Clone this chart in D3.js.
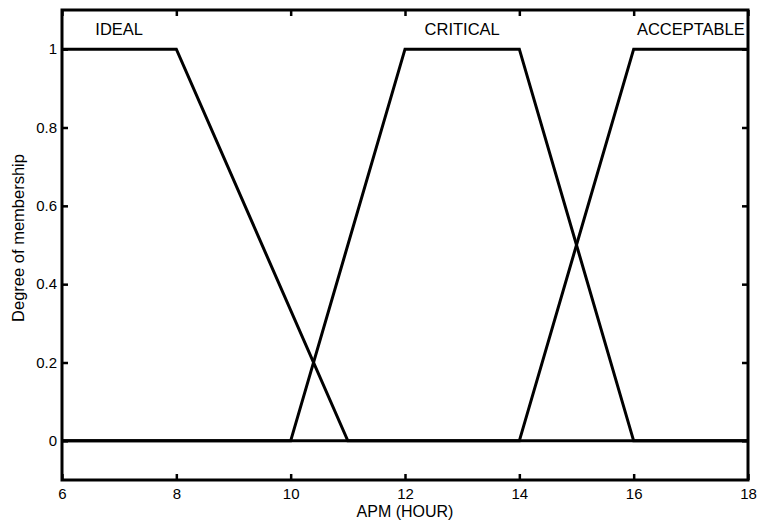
<!DOCTYPE html>
<html>
<head>
<meta charset="utf-8">
<script src="https://cdn.jsdelivr.net/npm/d3@7"></script>
<style>
    body { margin: 0; background: #fff; }
    text { font-family: "Liberation Sans", Arial, sans-serif; fill: #000; }
</style>
</head>
<body>
<div id="chart"></div>
<script>
// Membership function names and breakpoints (x in hours, y = degree)
const mfNames = ["IDEAL", "CRITICAL", "ACCEPTABLE"];
const idealX = [6, 8, 11, 18];
const idealY = [1, 1, 0, 0];
const criticalX = [6, 10, 12, 14, 16, 18];
const criticalY = [0, 0, 1, 1, 0, 0];
const acceptableX = [6, 14, 16, 18];
const acceptableY = [0, 0, 1, 1];
// label anchor: centre of each plateau
const labelX = [7, 13, 17];

const xTicks = [6, 8, 10, 12, 14, 16, 18];
const yTicks = [0, 0.2, 0.4, 0.6, 0.8, 1];

const width = 759, height = 520;
const margin = { top: 10, right: 11, bottom: 40, left: 62 };

const x = d3.scaleLinear().domain([6, 18]).range([margin.left, width - margin.right]);
const y = d3.scaleLinear().domain([-0.1, 1.1]).range([height - margin.bottom, margin.top]);

const svg = d3.select("#chart").append("svg")
    .attr("width", width)
    .attr("height", height);

// MF curves
const series = [
    { xs: idealX, ys: idealY },
    { xs: criticalX, ys: criticalY },
    { xs: acceptableX, ys: acceptableY }
];

const line = d3.line()
    .x(d => x(d[0]))
    .y(d => y(d[1]));

svg.selectAll("path.mf")
    .data(series)
    .enter()
    .append("path")
    .attr("class", "mf")
    .attr("d", s => line(d3.zip(s.xs, s.ys)))
    .attr("fill", "none")
    .attr("stroke", "#000")
    .attr("stroke-width", 3)
    .attr("stroke-linejoin", "miter");

// MF labels
svg.selectAll("text.mflabel")
    .data(mfNames)
    .enter()
    .append("text")
    .attr("class", "mflabel")
    .attr("x", (d, i) => x(labelX[i]))
    .attr("y", y(1.035))
    .attr("text-anchor", "middle")
    .style("font-size", "16.5px")
    .text(d => d);

// Axes, ticks pointing inward on all four sides
const tickLen = 6;
const axisStyle = g => {
    g.select(".domain").remove();
    g.selectAll(".tick line").attr("stroke", "#000").attr("stroke-width", 2.5);
    g.selectAll(".tick text").style("font-size", "15px").attr("fill", "#000");
};

svg.append("g")
    .attr("transform", `translate(0,${y(-0.1)})`)
    .call(d3.axisBottom(x).tickValues(xTicks).tickSize(-tickLen).tickPadding(8).tickFormat(d3.format("d")))
    .call(axisStyle);

svg.append("g")
    .attr("transform", `translate(0,${y(1.1)})`)
    .call(d3.axisTop(x).tickValues(xTicks).tickSize(-tickLen).tickFormat(""))
    .call(axisStyle);

svg.append("g")
    .attr("transform", `translate(${x(6)},0)`)
    .call(d3.axisLeft(y).tickValues(yTicks).tickSize(-tickLen).tickPadding(5).tickFormat(d => d))
    .call(axisStyle);

svg.append("g")
    .attr("transform", `translate(${x(18)},0)`)
    .call(d3.axisRight(y).tickValues(yTicks).tickSize(-tickLen).tickFormat(""))
    .call(axisStyle);

// Box
svg.append("rect")
    .attr("x", x(6))
    .attr("y", y(1.1))
    .attr("width", x(18) - x(6))
    .attr("height", y(-0.1) - y(1.1))
    .attr("fill", "none")
    .attr("stroke", "#000")
    .attr("stroke-width", 3);

// Axis titles
svg.append("text")
    .attr("x", (x(6) + x(18)) / 2)
    .attr("y", 517)
    .attr("text-anchor", "middle")
    .style("font-size", "16px")
    .text("APM (HOUR)");

svg.append("text")
    .attr("transform", `translate(24,${(y(-0.1) + y(1.1)) / 2 - 7}) rotate(-90)`)
    .attr("text-anchor", "middle")
    .style("font-size", "16.5px")
    .text("Degree of membership");
</script>
</body>
</html>
